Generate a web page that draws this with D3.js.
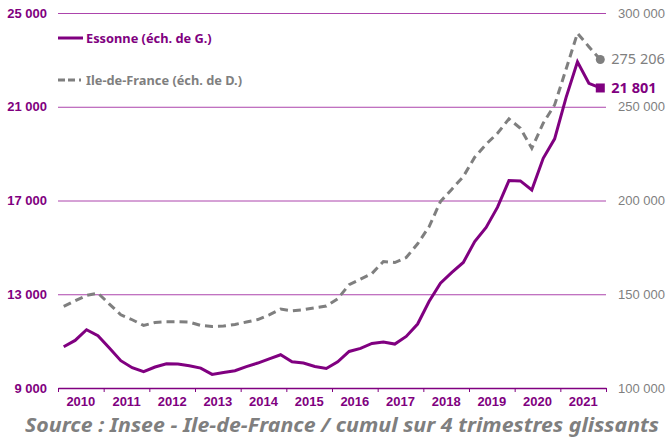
<!DOCTYPE html>
<html>
<head>
<meta charset="utf-8">
<script src="https://cdn.jsdelivr.net/npm/d3@7"></script>
<style>
  body { margin: 0; background: #fff; }
  svg { display: block; font-family: "Noto Sans", sans-serif; }
</style>
</head>
<body>
<svg id="chart" width="666" height="439"></svg>
<script>
// ---- data ----
const years = ["2010","2011","2012","2013","2014","2015","2016","2017","2018","2019","2020","2021"];
const leftTicks = [9000, 13000, 17000, 21000, 25000];
const rightTicks = [100000, 150000, 200000, 250000, 300000];
// Essonne, cumul sur 4 trimestres (quarterly, 2010 T1 -> 2021 T4)
const essonne = [10760, 11030, 11485, 11230, 10705, 10165, 9865, 9695, 9895, 10035, 10020, 9950,
                 9850, 9580, 9665, 9735, 9910, 10065, 10240, 10420, 10120, 10065, 9920, 9835,
                 10120, 10560, 10690, 10900, 10960, 10875, 11200, 11730, 12690, 13475, 13930, 14355,
                 15250, 15850, 16715, 17850, 17835, 17450, 18800, 19630, 21390, 22920, 22000, 21801];
// Ile-de-France
const idf = [143490, 146520, 149350, 150620, 144760, 139060, 136400, 133360, 134960, 135330, 135330, 135170,
             133360, 132830, 133040, 133890, 135170, 136500, 139060, 142100, 141190, 141730, 142790, 143700,
             147590, 155050, 158090, 161070, 167470, 166930, 169600, 176900, 186000, 199440, 206050, 212770,
             223100, 230030, 235890, 243510, 238550, 227890, 241220, 250970, 270000, 289180, 282040, 275206];

const purple = "#800080";
const gridPurple = "#ac44ac";
const grey = "#7f7f7f";

const svg = d3.select("#chart");
const margin = { top: 13, right: 60, bottom: 51, left: 58 };
const width = 666, height = 439;

const fr = d3.formatLocale({ decimal: ",", thousands: " ", grouping: [3], currency: ["", " €"] });
const fmt = fr.format(",d");

//------------------SCALES------------------
const xYear = d3.scaleBand()
    .domain(years)
    .range([margin.left, width - margin.right])
    .padding(0);

const xq = d3.scaleLinear()
    .domain([0, years.length * 4])
    .range([margin.left, width - margin.right]);

const yL = d3.scaleLinear()
    .domain([9000, 25000])
    .range([height - margin.bottom, margin.top]);

const yR = d3.scaleLinear()
    .domain([100000, 300000])
    .range([height - margin.bottom, margin.top]);

// grid lines
svg.append("g")
    .attr("transform", `translate(${margin.left},0)`)
    .call(d3.axisLeft(yL)
        .tickValues(leftTicks.slice(1))
        .tickSize(-(width - margin.left - margin.right))
        .tickFormat(() => ""))
    .call(g => g.select(".domain").remove())
    .selectAll("line")
    .attr("stroke", gridPurple)
    .attr("stroke-width", 1);

// left axis labels
svg.append("g")
    .attr("transform", `translate(${margin.left},0)`)
    .call(d3.axisLeft(yL).tickValues(leftTicks).tickSize(0).tickPadding(11).tickFormat(fmt))
    .call(g => g.select(".domain").remove())
    .selectAll("text")
    .attr("fill", purple)
    .attr("font-weight", "bold")
    .attr("font-size", "13px");

// right axis labels
svg.append("g")
    .attr("transform", `translate(${width - margin.right},0)`)
    .call(d3.axisRight(yR).tickValues(rightTicks).tickSize(0).tickPadding(12).tickFormat(fmt))
    .call(g => g.select(".domain").remove())
    .selectAll("text")
    .attr("fill", grey)
    .attr("font-size", "13px");

// x axis: tick marks on year boundaries
svg.append("g")
    .attr("transform", `translate(0,${height - margin.bottom})`)
    .call(d3.axisBottom(xq).tickValues(d3.range(0, years.length * 4 + 1, 4)).tickSize(4).tickSizeOuter(0).tickFormat(() => ""))
    .call(g => g.select(".domain").attr("stroke", purple).attr("stroke-width", 1.3))
    .selectAll("line")
    .attr("stroke", purple)
    .attr("stroke-width", 1);

// x axis labels
svg.append("g")
    .attr("transform", `translate(0,${height - margin.bottom})`)
    .call(d3.axisBottom(xYear).tickSize(0).tickPadding(9))
    .call(g => g.select(".domain").remove())
    .selectAll("text")
    .attr("fill", purple)
    .attr("font-weight", "bold")
    .attr("font-size", "13px");

//------------------LINES------------------
const lineL = d3.line().x((d, i) => xq(i + 0.5)).y(d => yL(d));
const lineR = d3.line().x((d, i) => xq(i + 0.5)).y(d => yR(d));

svg.append("path")
    .datum(idf)
    .attr("d", lineR)
    .attr("fill", "none")
    .attr("stroke", grey)
    .attr("stroke-width", 3)
    .attr("stroke-dasharray", "8,5");

svg.append("path")
    .datum(essonne)
    .attr("d", lineL)
    .attr("fill", "none")
    .attr("stroke", purple)
    .attr("stroke-width", 3);

// end markers + labels
const last = essonne.length - 1;
svg.append("circle")
    .attr("cx", xq(last + 0.5))
    .attr("cy", yR(idf[last]))
    .attr("r", 4.5)
    .attr("fill", grey);
svg.append("text")
    .attr("x", xq(last + 0.5) + 11)
    .attr("y", yR(idf[last]) + 5)
    .attr("fill", grey)
    .attr("font-size", "14.5px")
    .text(fmt(idf[last]));

svg.append("rect")
    .attr("x", xq(last + 0.5) - 4.5)
    .attr("y", yL(essonne[last]) - 4.5)
    .attr("width", 9)
    .attr("height", 9)
    .attr("fill", purple);
svg.append("text")
    .attr("x", xq(last + 0.5) + 11)
    .attr("y", yL(essonne[last]) + 5)
    .attr("fill", purple)
    .attr("font-weight", "bold")
    .attr("font-size", "14.5px")
    .text(fmt(essonne[last]));

//------------------LEGEND------------------
const legend = svg.append("g");
legend.append("line")
    .attr("x1", 58).attr("x2", 83).attr("y1", 38).attr("y2", 38)
    .attr("stroke", purple).attr("stroke-width", 3);
legend.append("text")
    .attr("x", 86).attr("y", 43)
    .attr("fill", purple).attr("font-weight", "bold").attr("font-size", "12.8px")
    .text("Essonne (éch. de G.)");
legend.append("line")
    .attr("x1", 58).attr("x2", 83).attr("y1", 80).attr("y2", 80)
    .attr("stroke", grey).attr("stroke-width", 3).attr("stroke-dasharray", "7,3,7,4,2");
legend.append("text")
    .attr("x", 86).attr("y", 85)
    .attr("fill", grey).attr("font-weight", "bold").attr("font-size", "12.8px")
    .text("Ile-de-France (éch. de D.)");

// source
svg.append("text")
    .attr("x", 25)
    .attr("y", 432)
    .attr("fill", grey)
    .attr("font-style", "italic")
    .attr("font-weight", "bold")
    .attr("font-size", "20px")
    .attr("textLength", 634)
    .attr("lengthAdjust", "spacingAndGlyphs")
    .text("Source : Insee - Ile-de-France / cumul sur 4 trimestres glissants");
</script>
</body>
</html>
